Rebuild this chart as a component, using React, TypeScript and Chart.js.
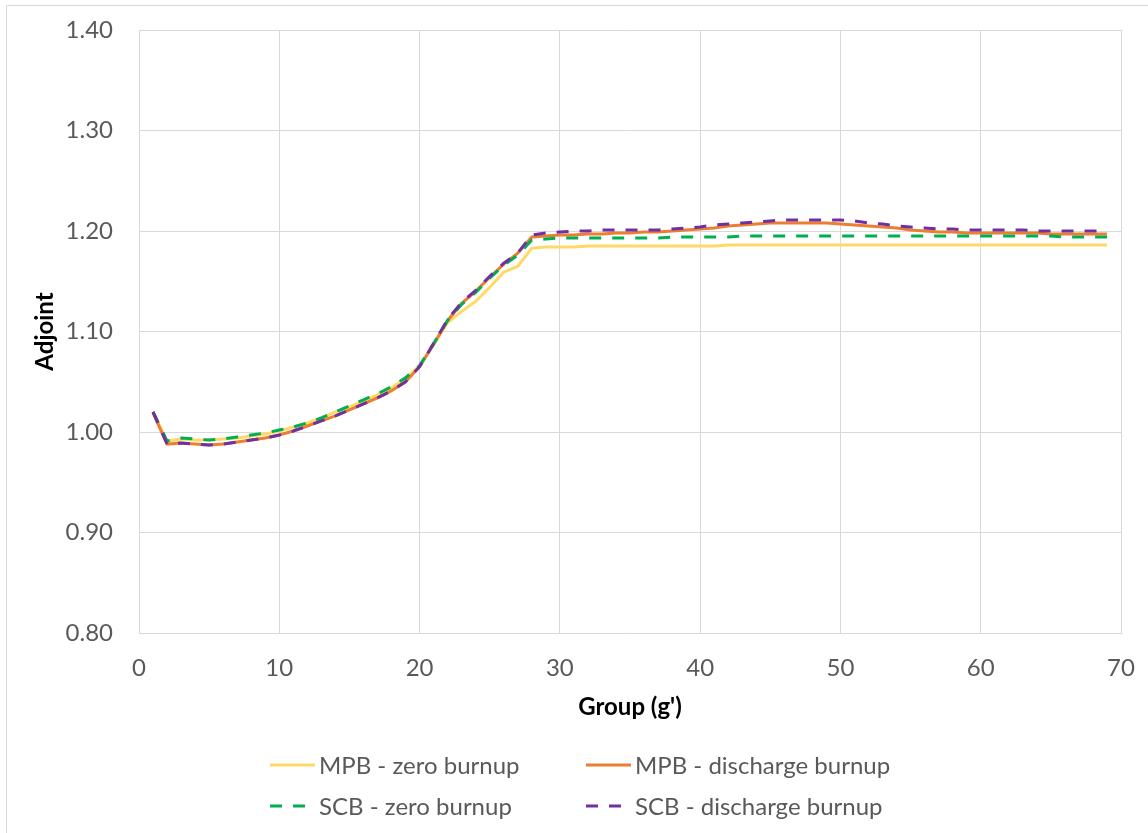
import React, { useEffect, useRef } from "react";
import { Chart, registerables } from "chart.js";

Chart.register(...registerables);

const groups: number[] = Array.from({ length: 69 }, (_, i) => i + 1);

const mpbZero: number[] = [
  1.020, 0.991, 0.993, 0.992, 0.992, 0.993, 0.994, 0.996, 0.998, 1.001,
  1.005, 1.009, 1.014, 1.020, 1.025, 1.031, 1.037, 1.044, 1.053, 1.066,
  1.087, 1.109, 1.120, 1.130, 1.144, 1.159, 1.165, 1.183, 1.184, 1.184,
  1.184, 1.185, 1.185, 1.185, 1.185, 1.185, 1.185, 1.185, 1.185, 1.185,
  1.185, 1.186, 1.186, 1.186, 1.186, 1.186, 1.186, 1.186, 1.186, 1.186,
  1.186, 1.186, 1.186, 1.186, 1.186, 1.186, 1.186, 1.186, 1.186, 1.186,
  1.186, 1.186, 1.186, 1.186, 1.186, 1.186, 1.186, 1.186, 1.186,
];

const mpbDischarge: number[] = [
  1.019, 0.988, 0.989, 0.988, 0.987, 0.988, 0.990, 0.992, 0.994, 0.997,
  1.001, 1.006, 1.011, 1.016, 1.022, 1.028, 1.034, 1.041, 1.050, 1.065,
  1.087, 1.111, 1.128, 1.140, 1.154, 1.167, 1.178, 1.194, 1.195, 1.196,
  1.196, 1.197, 1.197, 1.198, 1.198, 1.199, 1.199, 1.200, 1.201, 1.202,
  1.203, 1.205, 1.206, 1.207, 1.208, 1.208, 1.208, 1.208, 1.208, 1.207,
  1.206, 1.205, 1.204, 1.203, 1.201, 1.200, 1.199, 1.199, 1.198, 1.198,
  1.198, 1.198, 1.198, 1.198, 1.197, 1.197, 1.197, 1.197, 1.197,
];

const scbZero: number[] = [
  1.020, 0.991, 0.994, 0.993, 0.992, 0.993, 0.995, 0.997, 0.999, 1.002,
  1.005, 1.009, 1.014, 1.020, 1.026, 1.032, 1.038, 1.045, 1.054, 1.066,
  1.088, 1.111, 1.127, 1.139, 1.153, 1.166, 1.176, 1.191, 1.192, 1.193,
  1.193, 1.193, 1.193, 1.193, 1.193, 1.193, 1.193, 1.194, 1.194, 1.194,
  1.194, 1.194, 1.195, 1.195, 1.195, 1.195, 1.195, 1.195, 1.195, 1.195,
  1.195, 1.195, 1.195, 1.195, 1.195, 1.195, 1.195, 1.195, 1.195, 1.195,
  1.195, 1.195, 1.195, 1.195, 1.195, 1.194, 1.194, 1.194, 1.194,
];

const scbDischarge: number[] = [
  1.020, 0.988, 0.989, 0.988, 0.987, 0.988, 0.990, 0.992, 0.994, 0.997,
  1.001, 1.006, 1.011, 1.016, 1.022, 1.028, 1.034, 1.041, 1.050, 1.065,
  1.088, 1.112, 1.129, 1.141, 1.155, 1.168, 1.178, 1.196, 1.198, 1.199,
  1.200, 1.200, 1.201, 1.201, 1.201, 1.201, 1.201, 1.202, 1.203, 1.204,
  1.206, 1.207, 1.208, 1.209, 1.210, 1.211, 1.211, 1.211, 1.211, 1.211,
  1.210, 1.208, 1.207, 1.205, 1.204, 1.203, 1.202, 1.202, 1.201, 1.201,
  1.201, 1.201, 1.201, 1.200, 1.200, 1.200, 1.200, 1.200, 1.200,
];

const seriesLabels: string[] = [
  "MPB - zero burnup",
  "MPB - discharge burnup",
  "SCB - zero burnup",
  "SCB - discharge burnup",
];

const xTickValues: number[] = [0, 10, 20, 30, 40, 50, 60, 70];
const yTickValues: number[] = [0.8, 0.9, 1.0, 1.1, 1.2, 1.3, 1.4];

const FONT = 'Lato, "Open Sans", "DejaVu Sans", sans-serif';
const GRID = "#d9d9d9";
const TEXT = "#595959";

const framePlugin = {
  id: "frame",
  beforeDraw(chart: any) {
    const ctx = chart.ctx;
    ctx.save();
    ctx.fillStyle = "#ffffff";
    ctx.fillRect(0, 0, chart.width, chart.height);
    ctx.strokeStyle = GRID;
    ctx.lineWidth = 1;
    ctx.strokeRect(6.5, 5.5, chart.width + 20, chart.height + 20);
    ctx.restore();
  },
};

const legendPlugin = {
  id: "customLegend",
  afterDraw(chart: any) {
    const ctx = chart.ctx;
    const cols = [270, 586];
    const rows = [765, 806];
    const lineLen = 45;
    ctx.save();
    ctx.font = `24px ${FONT}`;
    ctx.textBaseline = "middle";
    ctx.textAlign = "left";
    chart.data.datasets.forEach((ds: any, i: number) => {
      const x = cols[i % 2];
      const y = rows[Math.floor(i / 2)];
      ctx.strokeStyle = ds.borderColor;
      ctx.lineWidth = ds.borderWidth;
      ctx.setLineDash(ds.borderDash || []);
      ctx.beginPath();
      ctx.moveTo(x, y);
      ctx.lineTo(x + lineLen, y);
      ctx.stroke();
      ctx.setLineDash([]);
      ctx.fillStyle = TEXT;
      ctx.fillText(ds.label, x + lineLen + 4, y + 1);
    });
    ctx.restore();
  },
};

export default function App() {
  const canvasRef = useRef<HTMLCanvasElement | null>(null);

  useEffect(() => {
    if (!canvasRef.current) return;
    const mk = (vals: number[]) => groups.map((g, i) => ({ x: g, y: vals[i] }));
    const chart = new Chart(canvasRef.current, {
      type: "line",
      data: {
        datasets: [
          {
            label: seriesLabels[0],
            data: mk(mpbZero),
            borderColor: "#FFD966",
            borderWidth: 3,
            pointRadius: 0,
            tension: 0,
            fill: false,
            order: 4,
          },
          {
            label: seriesLabels[1],
            data: mk(mpbDischarge),
            borderColor: "#ED7D31",
            borderWidth: 3,
            pointRadius: 0,
            tension: 0,
            fill: false,
            order: 3,
          },
          {
            label: seriesLabels[2],
            data: mk(scbZero),
            borderColor: "#00B050",
            borderWidth: 3,
            borderDash: [12, 11],
            pointRadius: 0,
            tension: 0,
            fill: false,
            order: 2,
          },
          {
            label: seriesLabels[3],
            data: mk(scbDischarge),
            borderColor: "#7030A0",
            borderWidth: 3,
            borderDash: [12, 11],
            pointRadius: 0,
            tension: 0,
            fill: false,
            order: 1,
          },
        ] as any,
      },
      options: {
        animation: false,
        responsive: false,
        devicePixelRatio: 1,
        layout: { padding: { left: 0, top: 30, right: 27, bottom: 100 } },
        plugins: {
          legend: { display: false },
          tooltip: { enabled: false },
          title: { display: false },
        },
        scales: {
          x: {
            type: "linear",
            min: xTickValues[0],
            max: xTickValues[xTickValues.length - 1],
            afterBuildTicks: (scale: any) => {
              scale.ticks = xTickValues.map((v) => ({ value: v }));
            },
            afterFit: (scale: any) => {
              scale.height = 100;
              scale.paddingLeft = 0;
              scale.paddingRight = 0;
              scale.paddingTop = 0;
              scale.paddingBottom = 0;
            },
            grid: { color: GRID, lineWidth: 1, drawTicks: false },
            border: { color: GRID, width: 1 },
            ticks: {
              color: TEXT,
              font: { family: FONT, size: 24 },
              padding: 21,
              maxRotation: 0,
              autoSkip: false,
              callback: (v: any) => String(v),
            },
            title: {
              display: true,
              text: "Group (g')",
              color: "#000000",
              font: { family: FONT, size: 24, weight: "bold" },
              padding: { top: 0, bottom: 11 },
            },
          },
          y: {
            type: "linear",
            min: yTickValues[0],
            max: yTickValues[yTickValues.length - 1],
            afterBuildTicks: (scale: any) => {
              scale.ticks = yTickValues.map((v) => ({ value: v }));
            },
            afterFit: (scale: any) => {
              scale.width = 139;
              scale.paddingLeft = 0;
              scale.paddingRight = 0;
              scale.paddingTop = 0;
              scale.paddingBottom = 0;
            },
            grid: { color: GRID, lineWidth: 1, drawTicks: false },
            border: { color: GRID, width: 1 },
            ticks: {
              color: TEXT,
              font: { family: FONT, size: 24 },
              padding: 26,
              autoSkip: false,
              callback: (v: any) => Number(v).toFixed(2),
            },
            title: {
              display: true,
              text: "Adjoint",
              color: "#000000",
              font: { family: FONT, size: 24, weight: "bold" },
              padding: { top: 31, bottom: 0 },
            },
          },
        },
      } as any,
      plugins: [framePlugin, legendPlugin],
    });
    return () => chart.destroy();
  }, []);

  return (
    <div style={{ position: "absolute", left: 0, top: 0, width: 1148, height: 833 }}>
      <canvas ref={canvasRef} width={1148} height={833} style={{ width: 1148, height: 833, display: "block" }} />
    </div>
  );
}
